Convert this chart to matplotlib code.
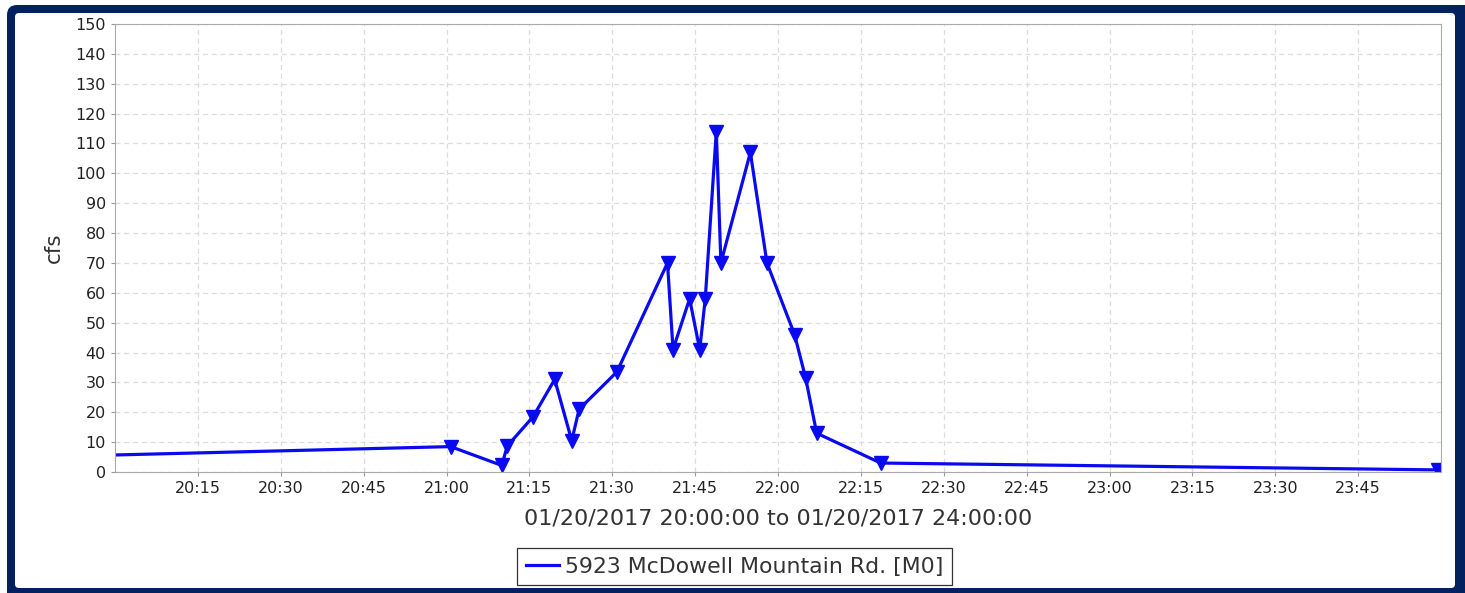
import numpy as np
import pandas as pd
import matplotlib
matplotlib.use("Agg")
import matplotlib.pyplot as plt
import matplotlib.dates as mdates
from matplotlib.patches import FancyBboxPatch
from matplotlib.transforms import IdentityTransform

plt.rcParams['font.family'] = ['DejaVu Sans']

# readings on 01/20/2017 (time, cfs)
times = ["20:00:00", "21:00:45", "21:10:00", "21:11:00", "21:15:40", "21:19:35",
         "21:22:40", "21:24:00", "21:30:50", "21:40:00", "21:41:00", "21:44:00",
         "21:45:50", "21:46:50", "21:48:50", "21:49:40", "21:55:00", "21:58:00",
         "22:03:00", "22:05:00", "22:07:00", "22:18:35", "23:59:30"]
flow = [5.7, 8.5, 2.2, 8.7, 18.5, 31, 10.5, 21, 33.5, 70, 41, 58,
        41, 58, 114, 70, 107, 70, 46, 31.5, 13, 3, 0.7]
series_name = "5923 McDowell Mountain Rd. [M0]"
x_title = "01/20/2017 20:00:00 to 01/20/2017 24:00:00"

t = pd.to_datetime(["2017-01-20 " + s for s in times])
t0 = pd.Timestamp("2017-01-20 20:00:00")
t1 = pd.Timestamp("2017-01-21 00:00:00")

W, H = 1465, 593
fig = plt.figure(figsize=(W / 100, H / 100), dpi=100)
fig.patch.set_facecolor("white")

# navy frame round the chart
frame = FancyBboxPatch((7, -10), W - 7 + 10, H - 5 + 10,
                       boxstyle="round,pad=0,rounding_size=10",
                       transform=IdentityTransform(), facecolor="#03215f",
                       edgecolor="none", zorder=-3)
inner = FancyBboxPatch((15, 5), 1440, 575,
                       boxstyle="round,pad=0,rounding_size=4",
                       transform=IdentityTransform(), facecolor="white",
                       edgecolor="none", zorder=-2)
fig.add_artist(frame)
fig.add_artist(inner)

ax = fig.add_axes([115 / W, 1 - 472 / H, (1441 - 115) / W, (472 - 24) / H])

line, = ax.plot(t, flow, color="#0a0af0", lw=2.3, marker="v", ms=9.5,
                markevery=range(1, len(flow)), label=series_name)

ax.set_xlim(t0, t1)
ax.set_ylim(0, 150)
ax.set_yticks(np.arange(0, 151, 10))
ticks = pd.date_range("2017-01-20 20:15", "2017-01-20 23:45", freq="15min")
ax.set_xticks(ticks)
ax.xaxis.set_major_formatter(mdates.DateFormatter("%H:%M"))

ax.grid(True, color="#dcdcdc", ls=(0, (4, 3)), lw=0.9)
ax.set_axisbelow(True)
for s in ax.spines.values():
    s.set_color("#aaaaaa")
ax.tick_params(length=3, color="#999999", labelsize=11.5, labelcolor="#222222")

ax.set_xlabel(x_title, fontsize=16, color="#333333", labelpad=9)
ax.set_ylabel("cfs", fontsize=15.5, color="#333333", labelpad=8)

leg = fig.legend(handles=[line], loc="lower center", bbox_to_anchor=(0.5015, 0.0135),
                 borderaxespad=0, fontsize=15.8, frameon=True, fancybox=False,
                 handlelength=1.5, handletextpad=0.3, borderpad=0.38)
leg.legend_handles[0].set_marker("")
leg.get_frame().set_edgecolor("black")
leg.get_frame().set_linewidth(0.9)
for tx in leg.get_texts():
    tx.set_color("#333333")

fig.savefig("out.png", dpi=100)
